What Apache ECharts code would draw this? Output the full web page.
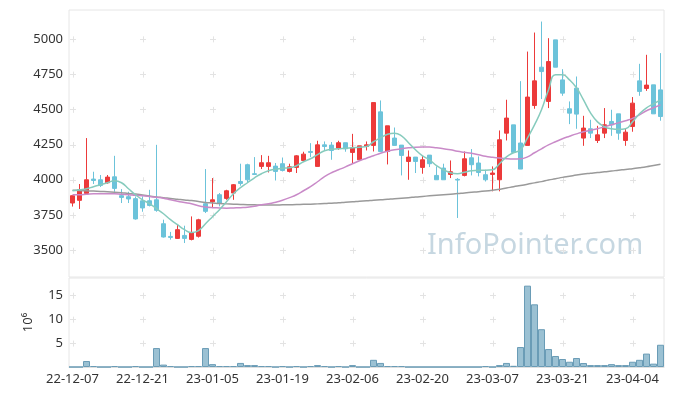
<!DOCTYPE html>
<html><head><meta charset="utf-8">
<script src="https://cdn.jsdelivr.net/npm/echarts@6/dist/echarts.min.js"></script>
<style>html,body{margin:0;padding:0;background:#fff}#c{width:673px;height:396px}</style>
</head><body><div id="c"></div>
<script>
const dates = ['22-12-07','22-12-08','22-12-09','22-12-12','22-12-13','22-12-14','22-12-15','22-12-16','22-12-19','22-12-20',
'22-12-21','22-12-22','22-12-23','22-12-26','22-12-27','22-12-28','22-12-29','23-01-02','23-01-03','23-01-04',
'23-01-05','23-01-06','23-01-09','23-01-10','23-01-11','23-01-12','23-01-13','23-01-16','23-01-17','23-01-18',
'23-01-19','23-01-20','23-01-25','23-01-26','23-01-27','23-01-30','23-01-31','23-02-01','23-02-02','23-02-03',
'23-02-06','23-02-07','23-02-08','23-02-09','23-02-10','23-02-13','23-02-14','23-02-15','23-02-16','23-02-17',
'23-02-20','23-02-21','23-02-22','23-02-23','23-02-24','23-02-27','23-02-28','23-03-02','23-03-03','23-03-06',
'23-03-07','23-03-08','23-03-09','23-03-10','23-03-13','23-03-14','23-03-15','23-03-16','23-03-17','23-03-20',
'23-03-21','23-03-22','23-03-23','23-03-24','23-03-27','23-03-28','23-03-29','23-03-30','23-03-31','23-04-03',
'23-04-04','23-04-05','23-04-06','23-04-07','23-04-10'];

const openP = [3835,3854,3903,4005,4000,3979,4021,3887,3880,3866,
3851,3851,3858,3688,3598,3584,3605,3577,3599,3830,
3844,3894,3868,3906,3988,4107,4043,4095,4095,4097,
4114,4059,4088,4137,4201,4095,4248,4246,4225,4263,
4194,4142,4236,4244,4482,4201,4296,4246,4130,4161,
4088,4175,4031,4083,4038,4003,4031,4156,4119,4036,
4038,4000,4331,4390,4261,4244,4527,4799,4556,4993,
4709,4504,4650,4296,4362,4279,4331,4414,4468,4279,
4378,4702,4648,4674,4638];
const closeP = [3887,3929,4000,3995,3960,4019,3939,3875,3864,3722,
3800,3818,3783,3594,3591,3646,3584,3625,3716,3776,
3858,3835,3922,3965,3974,4000,4038,4121,4121,4059,
4066,4092,4170,4182,4194,4248,4236,4208,4263,4220,
4227,4241,4248,4548,4201,4383,4244,4173,4161,4130,
4142,4114,4000,4000,4057,3998,4149,4107,4052,4000,
4048,4284,4438,4194,4076,4587,4702,4768,4839,4799,
4615,4473,4466,4367,4331,4319,4390,4390,4331,4338,
4544,4627,4672,4468,4449];
const lowP = [3810,3793,3900,3970,3949,3972,3915,3835,3835,3717,
3773,3811,3773,3590,3575,3580,3551,3570,3590,3764,
3807,3811,3858,3858,3958,3977,4038,4076,4052,3995,
4059,4052,4048,4135,4161,4095,4208,4142,4213,4199,
4119,4142,4208,4201,4201,4109,4244,4031,4000,4048,
4043,4090,4000,4000,4012,3729,4024,4031,4024,3988,
3918,3918,4279,4194,4076,4244,4504,4573,4509,4799,
4596,4395,4362,4241,4296,4261,4296,4312,4284,4241,
4341,4596,4631,4468,4419];
const highP = [3890,3970,4296,4057,4034,4034,4170,3934,3915,3882,
3882,3929,4248,3717,3630,3681,3674,3740,3723,4076,
4012,3906,3929,3970,4114,4114,4161,4175,4170,4119,
4158,4114,4175,4199,4260,4277,4272,4268,4277,4263,
4326,4241,4272,4548,4563,4383,4371,4246,4208,4161,
4170,4175,4095,4114,4137,4012,4201,4218,4166,4071,
4095,4350,4568,4390,4700,4910,5045,5123,5005,4993,
4785,4556,4733,4454,4426,4383,4509,4497,4468,4360,
4587,4823,4887,4674,4899];

const ma5 = [3922,3929,3936,3951,3965,3979,3993,3979,3936,3894,
3858,3830,3795,3759,3717,3681,3646,3625,3639,3688,
3738,3788,3844,3901,3944,3979,4014,4043,4064,4075,
4082,4085,4100,4128,4149,4178,4206,4217,4220,4224,
4227,4231,4236,4270,4298,4323,4331,4312,4263,4213,
4170,4142,4100,4071,4050,4043,4053,4064,4068,4068,
4071,4114,4163,4192,4213,4298,4390,4497,4638,4745,
4745,4709,4653,4567,4475,4411,4376,4362,4358,4362,
4411,4468,4511,4539,4567];
const ma20 = [3894,3894,3897,3901,3901,3901,3901,3897,3894,3890,
3887,3882,3876,3869,3858,3848,3839,3830,3816,3807,
3802,3800,3798,3800,3802,3805,3812,3823,3830,3841,
3855,3873,3894,3922,3951,3986,4022,4050,4071,4092,
4114,4135,4153,4170,4188,4202,4213,4220,4227,4231,
4232,4232,4227,4220,4213,4202,4195,4188,4178,4167,
4160,4154,4149,4147,4149,4163,4192,4220,4248,4270,
4291,4309,4326,4341,4351,4362,4376,4390,4404,4419,
4436,4461,4490,4511,4532];
const ma60 = [3926,3924,3922,3920,3917,3915,3912,3908,3903,3899,
3892,3885,3878,3873,3867,3862,3857,3853,3846,3839,
3835,3831,3829,3827,3825,3823,3822,3821,3821,3821,
3822,3823,3824,3826,3827,3829,3831,3834,3837,3841,
3844,3848,3851,3855,3858,3862,3866,3869,3873,3878,
3882,3886,3890,3894,3898,3902,3907,3911,3915,3920,
3926,3933,3941,3951,3959,3968,3978,3987,3998,4007,
4017,4025,4034,4041,4046,4051,4057,4062,4068,4073,
4079,4085,4092,4101,4110];

const volume = [0,0,1.25,0.2,0,0,0.2,0,0,0.2,
0,0,3.96,0.5,0.2,0,0,0.2,0.2,3.96,
0.6,0.2,0.2,0.2,0.85,0.4,0.4,0.2,0.2,0,
0.2,0,0.2,0,0.2,0.4,0.2,0,0.2,0,
0.4,0,0,1.5,0.85,0.2,0.2,0.2,0,0,
0,0,0,0,0,0,0,0,0,0.2,
0,0.4,0.85,0.25,4.17,17.0,13.1,7.9,3.75,2.3,
1.67,1.1,1.875,0.83,0.4,0.4,0.4,0.6,0.4,0.4,
1.1,1.5,2.8,0.7,4.65];

const priceTicks = [3500,3750,4000,4250,4500,4750,5000];
const volTicks = [5,10,15];
const xTickEvery = 10;

const candleData = dates.map((d,i)=>[openP[i],closeP[i],lowP[i],highP[i]]);
const xTickIdx = dates.map((d,i)=>i).filter(i=>i%xTickEvery===0);
const crossMain = [];
xTickIdx.forEach(i=>priceTicks.forEach(v=>crossMain.push([i,v])));
const crossVol = [];
xTickIdx.forEach(i=>volTicks.forEach(v=>crossVol.push([i,v])));

function crossRender(params, api){
  const p = api.coord([api.value(0), api.value(1)]);
  const s = 2.5;
  const st = {stroke:'#e3e3e3', lineWidth:1};
  return {type:'group', children:[
    {type:'line', shape:{x1:p[0]-s,y1:Math.round(p[1])+0.5,x2:p[0]+s+1,y2:Math.round(p[1])+0.5}, style:st},
    {type:'line', shape:{x1:Math.round(p[0])+0.5,y1:p[1]-s,x2:Math.round(p[0])+0.5,y2:p[1]+s+1}, style:st}
  ]};
}

const FONT = 'Noto Sans';
const plain = v => String(v);
const chart = echarts.init(document.getElementById('c'), null, {renderer:'canvas'});
chart.setOption({
  animation:false,
  backgroundColor:'#fff',
  grid:[
    {left:69, right:9, top:10, height:267, show:true, borderColor:'#e6e6e6', borderWidth:1},
    {left:69, right:9, top:278, height:89, show:true, borderColor:'#e6e6e6', borderWidth:1}
  ],
  xAxis:[
    {type:'category', gridIndex:0, data:dates, boundaryGap:true,
     axisLine:{show:false}, axisTick:{show:false}, axisLabel:{show:false}, splitLine:{show:false}},
    {type:'category', gridIndex:1, data:dates, boundaryGap:true,
     axisLine:{show:true, lineStyle:{color:'#e0e0e0'}}, axisTick:{show:false},
     axisLabel:{show:true, interval:xTickEvery-1, color:'#333', fontSize:13, fontFamily:FONT, margin:6},
     splitLine:{show:false}}
  ],
  yAxis:[
    {type:'value', gridIndex:0, min:3310, max:5205, scale:true,
     axisLine:{show:false}, axisTick:{show:false}, splitLine:{show:false},
     axisLabel:{color:'#333', fontSize:13, fontFamily:FONT, margin:6, customValues:priceTicks, formatter:plain}},
    {type:'value', gridIndex:1, min:0, max:18.6,
     name:'10⁶', nameLocation:'middle', nameRotate:90, nameGap:34,
     nameTextStyle:{color:'#333', fontSize:13, fontFamily:FONT},
     axisLine:{show:false}, axisTick:{show:false}, splitLine:{show:false},
     axisLabel:{color:'#333', fontSize:13, fontFamily:FONT, margin:6, customValues:volTicks, formatter:plain}}
  ],
  graphic:[
    {type:'text', left:427, top:231, z:0, silent:true,
     style:{text:'InfoPointer.com', fill:'#c6d7e1', font:'29px "Noto Sans"'}}
  ],
  series:[
    {type:'custom', xAxisIndex:0, yAxisIndex:0, data:crossMain, renderItem:crossRender, silent:true, z:1},
    {type:'custom', xAxisIndex:1, yAxisIndex:1, data:crossVol, renderItem:crossRender, silent:true, z:1},
    {type:'candlestick', xAxisIndex:0, yAxisIndex:0, data:candleData, barWidth:5, z:3,
     itemStyle:{color:'#ec3a3a', color0:'#6cc3da', borderColor:'#ec3a3a', borderColor0:'#6cc3da', borderWidth:1}},
    {type:'line', xAxisIndex:0, yAxisIndex:0, data:ma60, smooth:true, symbol:'none', z:4,
     lineStyle:{color:'#9a9a9a', width:1.5}},
    {type:'line', xAxisIndex:0, yAxisIndex:0, data:ma20, smooth:true, symbol:'none', z:4,
     lineStyle:{color:'#c98ac8', width:1.5}},
    {type:'line', xAxisIndex:0, yAxisIndex:0, data:ma5, smooth:true, symbol:'none', z:4,
     lineStyle:{color:'#86cbbd', width:1.5}},
    {type:'bar', xAxisIndex:1, yAxisIndex:1, data:volume, barCategoryGap:'0%', z:3,
     itemStyle:{color:'#9bc1d3', borderColor:'#6a9cb6', borderWidth:1}}
  ]
});
</script></body></html>
